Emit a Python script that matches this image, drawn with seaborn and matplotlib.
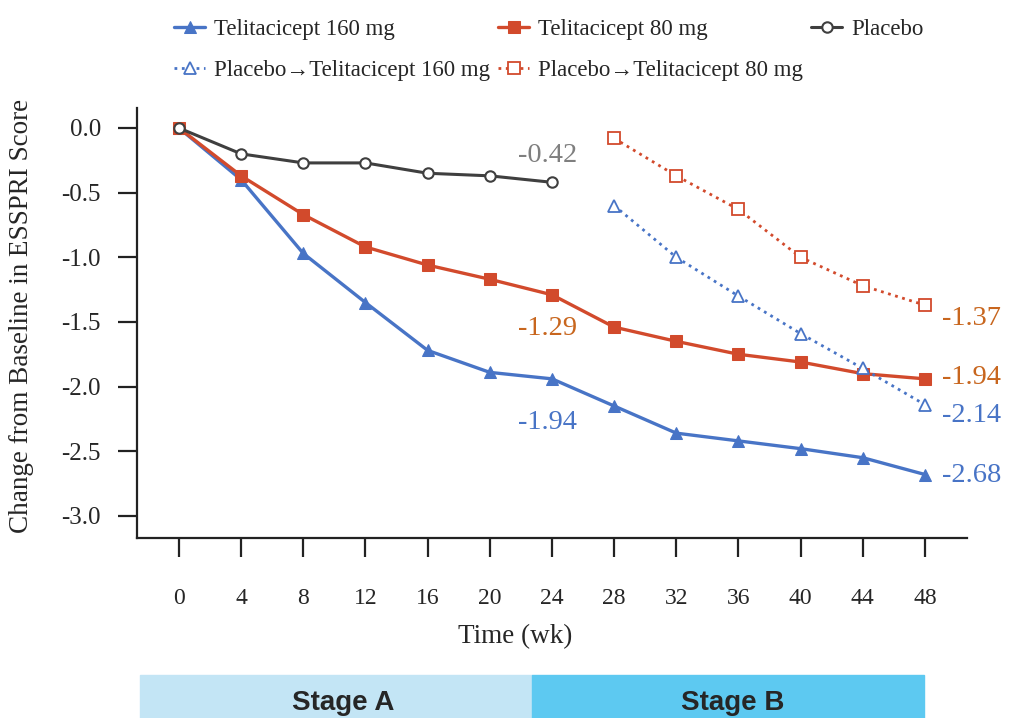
import matplotlib
matplotlib.use('Agg')
import matplotlib.pyplot as plt
import matplotlib.patches as mpatches
import numpy as np
import pandas as pd
import seaborn as sns

# values
weeks_a = [0, 4, 8, 12, 16, 20, 24]
weeks_all = [0, 4, 8, 12, 16, 20, 24, 28, 32, 36, 40, 44, 48]
weeks_b = [28, 32, 36, 40, 44, 48]

teli_160 = [0, -0.40, -0.97, -1.35, -1.72, -1.89, -1.94, -2.15, -2.36, -2.42, -2.48, -2.55, -2.68]
teli_80 = [0, -0.37, -0.67, -0.92, -1.06, -1.17, -1.29, -1.54, -1.65, -1.75, -1.81, -1.90, -1.94]
placebo = [0, -0.20, -0.27, -0.27, -0.35, -0.37, -0.42]
pbo_to_160 = [-0.60, -1.00, -1.30, -1.59, -1.86, -2.14]
pbo_to_80 = [-0.08, -0.37, -0.63, -1.00, -1.22, -1.37]

yticks = [0.0, -0.5, -1.0, -1.5, -2.0, -2.5, -3.0]

sns.set_style('ticks')
plt.rcParams['font.family'] = ['Liberation Serif', 'DejaVu Serif']

BLUE = '#4874C6'
RED = '#D24A2C'
DARK = '#3F3F3F'
ORANGE = '#C8661E'
GREY = '#7F7F7F'

fig = plt.figure(figsize=(10.11, 7.18), dpi=100)
ax = fig.add_axes([137 / 1011, 1 - 538 / 718, (967 - 137) / 1011, (538 - 108) / 718])

sns.lineplot(x=weeks_all, y=teli_160, ax=ax, color=BLUE, lw=2.4, marker='^', ms=9,
             mec=BLUE, mfc=BLUE, label='Telitacicept 160 mg', zorder=3)
sns.lineplot(x=weeks_all, y=teli_80, ax=ax, color=RED, lw=2.4, marker='s', ms=8,
             mec=RED, mfc=RED, label='Telitacicept 80 mg', zorder=3)
sns.lineplot(x=weeks_a, y=placebo, ax=ax, color=DARK, lw=2.2, marker='o', ms=7.5,
             mec=DARK, mfc='white', mew=1.5, label='Placebo', zorder=4)
sns.lineplot(x=weeks_b, y=pbo_to_160, ax=ax, color=BLUE, lw=2, ls=':', marker='^', ms=8,
             mec=BLUE, mfc='white', mew=1.3, label='Placebo\u2192Telitacicept 160 mg', zorder=3)
sns.lineplot(x=weeks_b, y=pbo_to_80, ax=ax, color=RED, lw=2, ls=':', marker='s', ms=8,
             mec=RED, mfc='white', mew=1.3, label='Placebo\u2192Telitacicept 80 mg', zorder=3)

# end-point annotations
ann = dict(fontsize=20.5)
ax.text(23.7, -0.21, '-0.42', color=GREY, ha='center', va='center', **ann)
ax.text(23.7, -1.55, '-1.29', color=ORANGE, ha='center', va='center', **ann)
ax.text(23.7, -2.28, '-1.94', color=BLUE, ha='center', va='center', **ann)
ax.text(49.1, -1.47, '-1.37', color=ORANGE, ha='left', va='center', **ann)
ax.text(49.1, -1.93, '-1.94', color=ORANGE, ha='left', va='center', **ann)
ax.text(49.1, -2.22, '-2.14', color=BLUE, ha='left', va='center', **ann)
ax.text(49.1, -2.69, '-2.68', color=BLUE, ha='left', va='center', **ann)

ax.set_xlim(-2.7, 48 + (967 - 925) / 15.54)
ax.set_ylim(-(538 - 128) / 129.3, (128 - 108) / 129.3)
ax.set_xticks(weeks_all)
ax.set_yticks(yticks)
ax.set_yticklabels([f'{v:.1f}' for v in yticks])
ax.tick_params(axis='both', length=14, width=1.6, color='#222222', labelsize=17)
ax.tick_params(axis='x', pad=22)
ax.tick_params(axis='y', labelsize=18, pad=12)
for s in ['left', 'bottom']:
    ax.spines[s].set_linewidth(1.6)
    ax.spines[s].set_color('#222222')
sns.despine(ax=ax)

ax.set_xlabel('Time (wk)', fontsize=19.5)
ax.xaxis.set_label_coords((515 - 137) / 830, -(637 - 538) / 430)
ax.xaxis.label.set_va('center')
ax.set_ylabel('Change from Baseline in ESSPRI Score', fontsize=19.5)
ax.yaxis.set_label_coords(-(137 - 22) / 830, (538 - 316) / 430)
ax.yaxis.label.set_va('center')

# legend: rows T160/T80/Placebo then the two switch groups
h, l = ax.get_legend_handles_labels()
order = [0, 3, 1, 4, 2]
ax.legend([h[i] for i in order], [l[i] for i in order], ncol=3, frameon=False,
          loc='upper left', bbox_to_anchor=(157 / 1011, 1 - 2 / 718), bbox_transform=fig.transFigure,
          fontsize=16.5, handlelength=1.35, handletextpad=0.4, columnspacing=0.35,
          labelspacing=0.85, borderaxespad=0.35)

# stage bar under the axis
fig.patches.append(mpatches.Rectangle((140 / 1011, 0), (532 - 140) / 1011, 43 / 718,
                                      transform=fig.transFigure, color='#C3E5F5', zorder=0))
fig.patches.append(mpatches.Rectangle((532 / 1011, 0), (924 - 532) / 1011, 43 / 718,
                                      transform=fig.transFigure, color='#5DC9F1', zorder=0))
fig.text(343 / 1011, 1 - 703 / 718, 'Stage A', ha='center', va='center', fontsize=20,
         fontweight='bold', family='Liberation Sans')
fig.text(733 / 1011, 1 - 703 / 718, 'Stage B', ha='center', va='center', fontsize=20,
         fontweight='bold', family='Liberation Sans')

fig.savefig('out.png', dpi=100)
